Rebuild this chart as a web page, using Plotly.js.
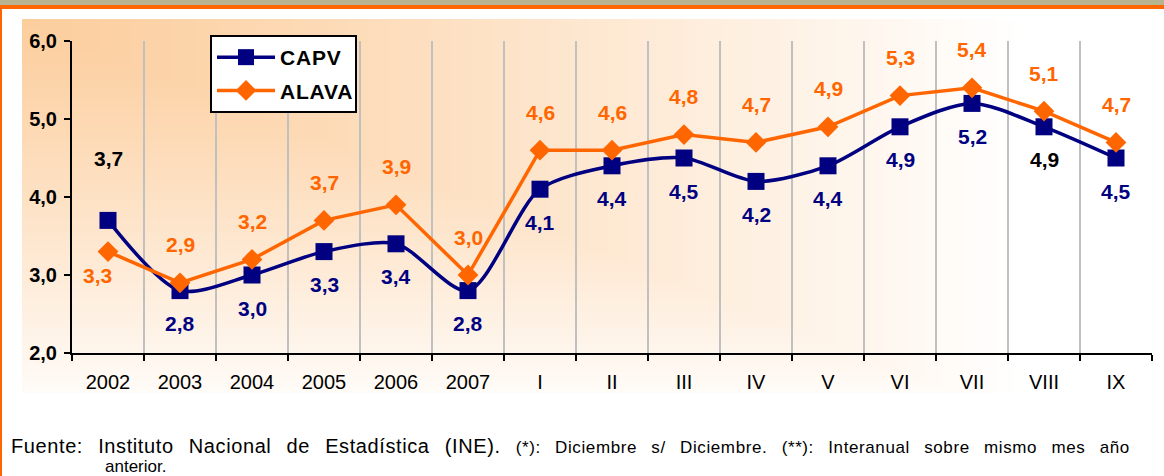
<!DOCTYPE html>
<html>
<head>
<meta charset="utf-8">
<script src="https://cdn.plot.ly/plotly-3.0.1.min.js"></script>
<style>
html,body{margin:0;padding:0;background:#fff;overflow:hidden;}
#chart{width:1164px;height:476px;}
#chart g.annotation[data-index="30"] text{word-spacing:9px;letter-spacing:0.6px;}
#chart g.legend text.legendtext{letter-spacing:0.8px;}
</style>
</head>
<body>
<div id="chart"></div>
<script>
// ---- data ----
var categories = ["2002","2003","2004","2005","2006","2007","I","II","III","IV","V","VI","VII","VIII","IX"];
var capv  = [3.7, 2.8, 3.0, 3.3, 3.4, 2.8, 4.1, 4.4, 4.5, 4.2, 4.4, 4.9, 5.2, 4.9, 4.5];
var alava = [3.3, 2.9, 3.2, 3.7, 3.9, 3.0, 4.6, 4.6, 4.8, 4.7, 4.9, 5.3, 5.4, 5.1, 4.7];
var seriesNames = ["CAPV", "ALAVA"];
var yTickVals = [2, 3, 4, 5, 6];

// ---- label placement (style config) ----
var capvLabelAbove = [true,false,false,false,false,false,false,false,false,false,false,false,false,false,false];
var capvLabelBlack = [true,false,false,false,false,false,false,false,false,false,false,false,false,true,false];
var alavaLabelBelow = [true,false,false,false,false,false,false,false,false,false,false,false,false,false,false];

var NAVY = "#000080", ORANGE = "#ff6600";
var FONT = "Arial, 'Liberation Sans', sans-serif";

function fmt(v){ return v.toFixed(1).replace(".", ","); }

// ---- background "from corner" gradient image ----
var BG_W = 1142, BG_H = 374;
var cv = document.createElement("canvas");
cv.width = BG_W; cv.height = BG_H;
var ctx = cv.getContext("2d");
var img = ctx.createImageData(BG_W, BG_H);
var c0 = [252, 206, 158], c1 = [255, 255, 255];
var GW = 1000, GH = 400;
for (var yy = 0; yy < BG_H; yy++) {
  for (var xx = 0; xx < BG_W; xx++) {
    var t = Math.min(1, Math.max(xx / GW, yy / GH));
    t = Math.pow(t, 1.15);
    var k = (yy * BG_W + xx) * 4;
    img.data[k]   = c0[0] + (c1[0] - c0[0]) * t;
    img.data[k+1] = c0[1] + (c1[1] - c0[1]) * t;
    img.data[k+2] = c0[2] + (c1[2] - c0[2]) * t;
    img.data[k+3] = 255;
  }
}
ctx.putImageData(img, 0, 0);
var bgURL = cv.toDataURL();

var W = 1164, H = 476;
var L = 72, R = 12, T = 41, B = 123;
var PW = W - L - R, PH = H - T - B;
function px2x(p){ return (p - L) / PW; }
function px2y(p){ return (H - B - p) / PH; }

var traces = [
  {
    x: categories, y: capv, name: seriesNames[0], type: "scatter", mode: "lines+markers",
    line: {color: NAVY, width: 3.5, shape: "spline", smoothing: 0.8},
    marker: {symbol: "square", size: 17, color: NAVY},
    legendgroup: "a", hoverinfo: "skip"
  },
  {
    x: categories, y: alava, name: seriesNames[1], type: "scatter", mode: "lines+markers",
    line: {color: ORANGE, width: 3.5},
    marker: {symbol: "diamond", size: 16, color: ORANGE},
    legendgroup: "b", hoverinfo: "skip"
  }
];

var annotations = [];
categories.forEach(function(c, i){
  annotations.push({
    x: i, y: capv[i], xref: "x", yref: "y", text: fmt(capv[i]), showarrow: false,
    yshift: capvLabelAbove[i] ? 62 : -33,
    font: {family: FONT, size: 21, weight: "bold", color: capvLabelBlack[i] ? "#000000" : NAVY}
  });
  annotations.push({
    x: i, y: alava[i], xref: "x", yref: "y", text: fmt(alava[i]), showarrow: false,
    yshift: alavaLabelBelow[i] ? -24 : 38, xshift: alavaLabelBelow[i] ? -11 : 0,
    font: {family: FONT, size: 21, weight: "bold", color: ORANGE}
  });
});

annotations.push({
  xref: "paper", yref: "paper", x: px2x(9), y: px2y(446), xanchor: "left", yanchor: "middle",
  showarrow: false, align: "left",
  text: "Fuente: Instituto Nacional de Estadística (INE). <span style='font-size:17px'>(*): Diciembre s/ Diciembre. (**): Interanual sobre mismo mes año</span>",
  font: {family: FONT, size: 20, color: "#000"}
});
annotations.push({
  xref: "paper", yref: "paper", x: px2x(103), y: px2y(466), xanchor: "left", yanchor: "middle",
  showarrow: false, text: "anterior.", font: {family: FONT, size: 17, color: "#000"}
});

var shapes = [
  {type: "rect", xref: "paper", yref: "paper", x0: px2x(0), x1: px2x(W), y0: px2y(0), y1: px2y(5),
   fillcolor: "#b8b491", line: {width: 0}, layer: "above"},
  {type: "rect", xref: "paper", yref: "paper", x0: px2x(0), x1: px2x(W), y0: px2y(5), y1: px2y(9),
   fillcolor: ORANGE, line: {width: 0}, layer: "above"},
  {type: "rect", xref: "paper", yref: "paper", x0: px2x(0), x1: px2x(2), y0: px2y(9), y1: px2y(H),
   fillcolor: ORANGE, line: {width: 0}, layer: "above"}
];

var layout = {
  width: W, height: H,
  margin: {l: L, r: R, t: T, b: B, pad: 0},
  paper_bgcolor: "#ffffff",
  plot_bgcolor: "rgba(0,0,0,0)",
  separators: ",.",
  font: {family: FONT, color: "#000"},
  showlegend: true,
  legend: {
    x: px2x(210), y: px2y(35), xanchor: "left", yanchor: "top",
    bgcolor: "#ffffff", bordercolor: "#000000", borderwidth: 2,
    font: {family: FONT, size: 21, weight: "bold", color: "#000"},
    tracegroupgap: 3, itemwidth: 58
  },
  xaxis: {
    type: "category", range: [-0.5, categories.length - 0.5],
    tickson: "boundaries", showgrid: true, gridcolor: "#c0c0c0", gridwidth: 2,
    showline: true, linecolor: "#000", linewidth: 2,
    ticks: "outside", ticklen: 6, tickwidth: 2, tickcolor: "#000",
    tickfont: {family: FONT, size: 20, color: "#000"},
    ticklabelstandoff: 10,
    zeroline: false, fixedrange: true
  },
  yaxis: {
    range: [2, 6], tickvals: yTickVals, tickformat: ".1f",
    showgrid: false, zeroline: false,
    showline: true, linecolor: "#000", linewidth: 2,
    ticks: "outside", ticklen: 6, tickwidth: 2, tickcolor: "#000",
    tickfont: {family: FONT, size: 20, weight: "bold", color: "#000"},
    ticklabelstandoff: 3,
    fixedrange: true
  },
  images: [{
    source: bgURL, xref: "paper", yref: "paper",
    x: px2x(22), y: px2y(19), sizex: BG_W / PW, sizey: BG_H / PH,
    xanchor: "left", yanchor: "top", sizing: "stretch", layer: "below"
  }],
  shapes: shapes,
  annotations: annotations
};

Plotly.newPlot("chart", traces, layout, {staticPlot: true, displayModeBar: false});
</script>
</body>
</html>
